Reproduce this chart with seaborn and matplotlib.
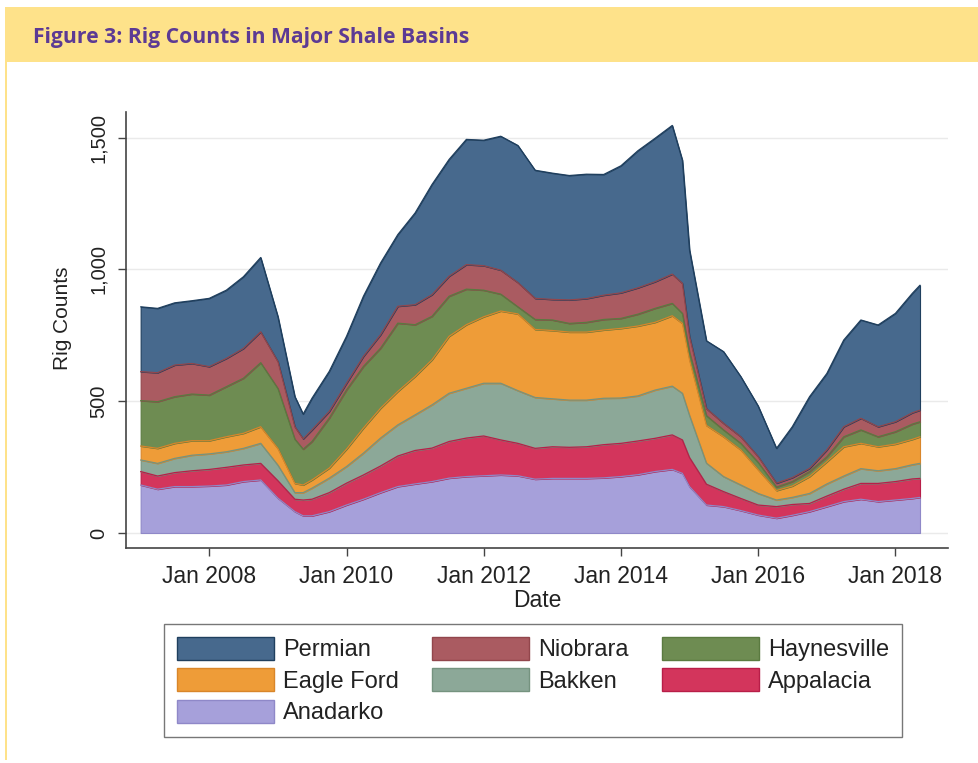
import numpy as np
import pandas as pd
import matplotlib
matplotlib.use("Agg")
import matplotlib.pyplot as plt
from matplotlib.patches import Rectangle, Patch
import seaborn as sns

# ---------------- data ----------------
dates = ["2007-01-01", "2007-04-01", "2007-07-01", "2007-10-01",
         "2008-01-01", "2008-04-01", "2008-07-01", "2008-10-01",
         "2009-01-01", "2009-04-01", "2009-05-15", "2009-07-01", "2009-10-01",
         "2010-01-01", "2010-04-01", "2010-07-01", "2010-10-01",
         "2011-01-01", "2011-04-01", "2011-07-01", "2011-10-01",
         "2012-01-01", "2012-04-01", "2012-07-01", "2012-10-01",
         "2013-01-01", "2013-04-01", "2013-07-01", "2013-10-01",
         "2014-01-01", "2014-04-01", "2014-07-01", "2014-10-01", "2014-11-24",
         "2015-01-01", "2015-04-01", "2015-07-01", "2015-10-01",
         "2016-01-01", "2016-04-08", "2016-07-01", "2016-10-01",
         "2017-01-01", "2017-04-01", "2017-07-01", "2017-10-01",
         "2018-01-01", "2018-04-01", "2018-05-12"]

anadarko = [182, 166, 176, 176, 178, 182, 195, 201, 132, 81, 65, 65, 81,
            106, 128, 153, 176, 186, 195, 208, 214, 217, 220, 217, 204,
            207, 207, 207, 209, 214, 221, 233, 241, 226, 176, 106, 100, 85,
            68, 56, 67, 81, 100, 119, 128, 119, 125, 131, 135]
appalacia = [51, 50, 53, 60, 63, 67, 63, 63, 66, 47, 60, 63, 72,
             83, 92, 101, 116, 127, 127, 139, 146, 151, 133, 123, 117,
             120, 118, 120, 126, 126, 128, 126, 131, 127, 110, 79, 57, 46,
             38, 44, 41, 31, 40, 47, 60, 69, 70, 74, 72]
bakken = [44, 48, 54, 59, 59, 59, 63, 76, 59, 25, 28, 42, 55,
          63, 83, 106, 118, 135, 164, 183, 189, 200, 215, 200, 193,
          182, 179, 177, 176, 172, 171, 183, 185, 177, 160, 80, 57, 51,
          44, 25, 27, 38, 46, 50, 56, 48, 49, 54, 57]
eagle_ford = [53, 57, 57, 55, 50, 57, 57, 63, 63, 35, 29, 31, 38,
              66, 95, 113, 127, 146, 171, 216, 241, 252, 274, 291, 258,
              259, 258, 258, 259, 264, 265, 257, 267, 265, 210, 143, 151, 133,
              90, 36, 43, 64, 84, 111, 96, 91, 93, 96, 101]
haynesville = [172, 177, 177, 177, 173, 190, 209, 243, 228, 168, 136, 146, 190,
               225, 234, 228, 259, 196, 165, 152, 135, 101, 64, 27, 38,
               40, 33, 37, 40, 38, 45, 53, 47, 38, 30, 37, 26, 25,
               28, 13, 17, 19, 19, 38, 51, 38, 47, 58, 57]
niobrara = [110, 110, 120, 116, 108, 107, 113, 117, 102, 47, 39, 44, 25,
            25, 38, 51, 64, 76, 82, 76, 93, 93, 91, 92, 80,
            78, 89, 90, 92, 97, 100, 101, 111, 114, 60, 27, 25, 25,
            22, 15, 15, 12, 26, 38, 44, 38, 38, 43, 44]
permian = [246, 244, 236, 238, 259, 259, 272, 282, 170, 114, 94, 120, 152,
           178, 228, 272, 272, 348, 418, 443, 475, 476, 508, 520, 486,
           479, 472, 472, 458, 482, 520, 544, 564, 467, 327, 257, 272, 228,
           192, 132, 193, 272, 290, 329, 373, 386, 411, 453, 474]

basins = ["Anadarko", "Appalacia", "Bakken", "Eagle Ford", "Haynesville", "Niobrara", "Permian"]
tick_years = [2008, 2010, 2012, 2014, 2016, 2018]
ytick_values = [0, 500, 1000, 1500]
ytick_labels = ["0", "500", "1,000", "1,500"]

fills = {"Anadarko": "#A6A0DA", "Appalacia": "#D3355C", "Bakken": "#8CA898",
         "Eagle Ford": "#EE9C38", "Haynesville": "#6E8C52", "Niobrara": "#AA5B61",
         "Permian": "#47698D"}
edges = {"Anadarko": "#8F88C8", "Appalacia": "#B81E48", "Bakken": "#75937F",
         "Eagle Ford": "#D9862A", "Haynesville": "#5A7A40", "Niobrara": "#92464C",
         "Permian": "#1F3F5E"}

df = pd.DataFrame({"Date": pd.to_datetime(dates), "Anadarko": anadarko,
                   "Appalacia": appalacia, "Bakken": bakken, "Eagle Ford": eagle_ford,
                   "Haynesville": haynesville, "Niobrara": niobrara, "Permian": permian})

# ---------------- figure ----------------
sns.set_theme(style="white")
plt.rcParams["font.family"] = ["Liberation Sans", "DejaVu Sans"]
W, H = 979, 763
fig = plt.figure(figsize=(W / 100, H / 100), dpi=100)

# header band and left border
fig.patches.append(Rectangle((5 / W, 1 - 62 / H), (W - 5) / W, 55 / H,
                             transform=fig.transFigure, facecolor="#FEE28A",
                             edgecolor="none", zorder=0))
fig.patches.append(Rectangle((5 / W, 1 - 760 / H), 2.5 / W, (760 - 62) / H,
                             transform=fig.transFigure, facecolor="#FEE28A",
                             edgecolor="none", zorder=0))
fig.text(33 / W, 1 - 37 / H, "Figure 3: Rig Counts in Major Shale Basins",
         family=["Open Sans", "DejaVu Sans"], weight="bold", color="#5C3A94",
         fontsize=15.2, ha="left", va="center")

ax = fig.add_axes([126 / W, 1 - 548 / H, (948 - 126) / W, (548 - 112) / H])

polys = ax.stackplot(df["Date"], *[df[b] for b in basins],
                     colors=[fills[b] for b in basins], zorder=2)
for p, b in zip(polys, basins):
    p.set_edgecolor(edges[b])
    p.set_linewidth(0.8)

# boundary outlines drawn with seaborn through the stacked tops
cum = df[basins].cumsum(axis=1)
for b in basins:
    sns.lineplot(x=df["Date"], y=cum[b], ax=ax, color=edges[b], lw=0.9,
                 zorder=3, legend=False)

ax.set_xlim(pd.Timestamp("2006-10-15"), pd.Timestamp("2018-10-08"))
ax.set_ylim(-57, 1597)

ax.set_yticks(ytick_values)
ax.set_yticklabels(ytick_labels, rotation=90, va="center", fontsize=14.5, color="#222222")
ax.set_xticks([pd.Timestamp(f"{y}-01-01") for y in tick_years])
ax.set_xticklabels([f"Jan {y}" for y in tick_years], fontsize=16.5, color="#222222")
ax.tick_params(axis="both", which="major", direction="out", length=6, width=1,
               color="#444444", bottom=True, left=True)
ax.tick_params(axis="x", pad=6)
ax.tick_params(axis="y", pad=7)

ax.yaxis.grid(True, color="#EAEAEA", lw=1)
ax.xaxis.grid(False)
ax.set_axisbelow(True)
for s in ["top", "right"]:
    ax.spines[s].set_visible(False)
for s in ["left", "bottom"]:
    ax.spines[s].set_color("#444444")
    ax.spines[s].set_linewidth(1.2)

ax.set_xlabel("Date", fontsize=16.5, color="#222222", labelpad=1)
ax.set_ylabel("Rig Counts", fontsize=15, color="#222222")
ax.yaxis.set_label_coords(-(126 - 72) / (948 - 126), (548 - 318) / (548 - 112))

# legend in the Stata order (row-wise)
order_cols = ["Permian", "Eagle Ford", "Anadarko", "Niobrara", "Bakken", "Haynesville", "Appalacia"]
handles = [Patch(facecolor=fills[b], edgecolor=edges[b], lw=1) for b in order_cols]
leg = fig.legend(handles, order_cols, ncol=3, loc="upper left",
                 bbox_to_anchor=(164 / W, 1 - 624 / H), frameon=True,
                 fancybox=False, edgecolor="#555555", fontsize=17,
                 handlelength=4.1, handleheight=1.1, handletextpad=0.4,
                 columnspacing=1.4, borderpad=0.55, labelspacing=0.3,
                 borderaxespad=0)
leg.get_frame().set_linewidth(1.0)
for t in leg.get_texts():
    t.set_color("#222222")

fig.savefig("out.png", dpi=100)
